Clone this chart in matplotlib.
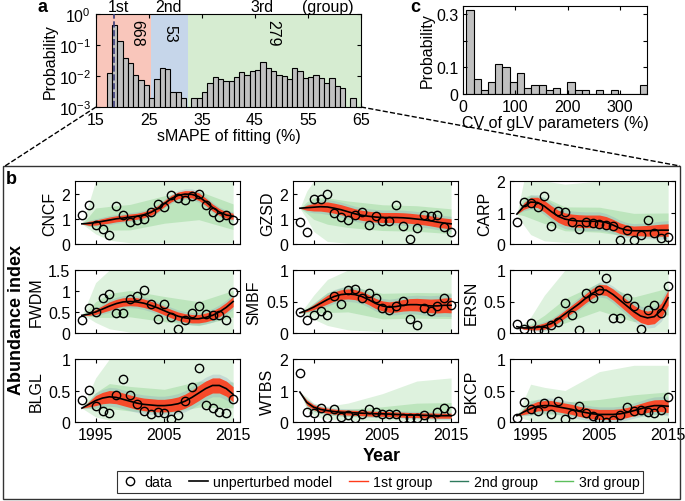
import matplotlib
matplotlib.use("Agg")
import matplotlib.pyplot as plt
import numpy as np
from matplotlib.lines import Line2D
from matplotlib.patches import Rectangle
from matplotlib.transforms import blended_transform_factory

plt.rcParams["font.family"] = ["Liberation Sans", "DejaVu Sans"]
plt.rcParams["mathtext.default"] = "regular"
plt.rcParams["font.size"] = 11.5

W, H = 685, 502

# ---------------- panel a: sMAPE histogram ----------------
smape_bins = list(range(17, 64))
smape_prob = [0.0124, 0.45, 0.138, 0.038, 0.026, 0.011, 0.0072, 0.0052, 0.002,
              0.0081, 0.018, 0.017, 0.003, 0.003, 0.002, 0, 0.002, 0.002, 0.003,
              0.006, 0.0092, 0.0081, 0.0069, 0.0069, 0.0092, 0.0133, 0.011, 0.0144,
              0.016, 0.028, 0.018, 0.014, 0.011, 0.01, 0.0081, 0.018, 0.015, 0.0086,
              0.0091, 0.011, 0.0086, 0.006, 0.0087, 0.0047, 0.004, 0, 0.002]
group_edges = [15, 25.4, 32.4, 65]
group_names = ["1st", "2nd", "3rd"]
group_counts = ["668", "53", "279"]
best_smape = 18.4

# ---------------- panel c: CV histogram ----------------
cv_left = [6.5 + 13.8 * i for i in range(25)]
cv_prob = [0.314, 0.0575, 0.015, 0.046, 0.114, 0.1025, 0.046, 0.08, 0.0225,
           0.034, 0.034, 0.015, 0.0225, 0, 0.046, 0.015, 0.015, 0, 0.015, 0,
           0.015, 0, 0, 0, 0.034]

# ---------------- panel b: abundance time series ----------------
years = list(range(1993, 2016))
band_years = [1993, 1994, 1995, 1997, 2000, 2005, 2010, 2015]

cncf_obs = [1.17, 1.55, 0.77, 0.6, 0.35, 1.5, 1.15, 0.87, 0.97, 1.0, 1.27, 1.57,
            1.47, 1.96, 1.83, 1.75, 1.89, 1.97, 1.55, 1.28, 1.07, 1.17, 0.97]
cncf_model = [0.8, 0.82, 0.85, 0.9, 0.95, 1.0, 1.03, 1.07, 1.1, 1.16, 1.25, 1.4,
              1.6, 1.8, 1.93, 1.98, 1.97, 1.88, 1.68, 1.45, 1.27, 1.15, 1.1]
cncf_g_lo = [0.8, 0.6, 0.4, 0.15, 0.05, 0.05, 0.05, 0.05]
cncf_g_hi = [0.8, 1.6, 2.5, 2.5, 2.5, 2.5, 2.5, 2.5]
cncf_red = [0, 0.08, 0.1, 0.12, 0.12, 0.12, 0.15, 0.12]

gzsd_obs = [0.86, 0.46, 1.8, 1.78, 1.99, 1.24, 1.09, 0.94, 1.14, 1.27, 0.76, 1.12,
            0.9, 0.92, 1.54, 0.73, 0.18, 0.65, 1.14, 1.1, 1.14, 0.66, 0.46]
gzsd_model = [1.42, 1.44, 1.46, 1.48, 1.47, 1.42, 1.36, 1.28, 1.2, 1.14, 1.1, 1.07,
              1.05, 1.05, 1.05, 1.04, 1.02, 0.99, 0.96, 0.92, 0.87, 0.83, 0.8]
gzsd_g_lo = [1.42, 1.0, 0.5, 0.1, 0.03, 0.02, 0.02, 0.02]
gzsd_g_hi = [1.42, 2.1, 2.5, 2.5, 2.5, 2.5, 2.5, 2.5]
gzsd_red = [0, 0.1, 0.15, 0.2, 0.2, 0.2, 0.2, 0.2]

carp_obs = [0.71, 1.33, 1.31, 1.19, 1.51, 0.56, 1.05, 1.03, 0.7, 0.48, 0.71, 0.68,
            0.64, 0.59, 0.56, 0.14, 0.45, 0.14, 0.28, 0.77, 0.36, 0.19, 0.22]
carp_model = [0.95, 1.2, 1.33, 1.32, 1.2, 1.03, 0.88, 0.79, 0.75, 0.73, 0.72, 0.72,
              0.72, 0.68, 0.6, 0.5, 0.44, 0.42, 0.42, 0.42, 0.43, 0.44, 0.44]
carp_g_lo = [0.95, 0.6, 0.3, 0.1, 0.05, 0.03, 0.02, 0.02]
carp_g_hi = [0.95, 2.0, 2.0, 2.0, 1.9, 2.0, 2.0, 2.0]
carp_red = [0, 0.1, 0.15, 0.18, 0.2, 0.2, 0.15, 0.2]

fwdm_obs = [0.32, 0.6, 0.5, 0.83, 0.92, 0.48, 0.47, 0.81, 0.87, 1.03, 0.69, 0.34,
            0.7, 0.38, 0.09, 0.31, 0.48, 0.64, 0.46, 0.44, 0.42, 0.3, 0.98]
fwdm_model = [0.42, 0.45, 0.5, 0.57, 0.64, 0.7, 0.74, 0.75, 0.74, 0.71, 0.66, 0.6,
              0.53, 0.46, 0.4, 0.36, 0.34, 0.34, 0.37, 0.42, 0.5, 0.61, 0.75]
fwdm_g_lo = [0.42, 0.35, 0.25, 0.1, 0.02, 0.01, 0.01, 0.01]
fwdm_g_hi = [0.42, 0.8, 1.2, 1.5, 1.5, 1.5, 1.5, 1.5]
fwdm_red = [0, 0.03, 0.06, 0.1, 0.1, 0.1, 0.1, 0.12]

smbf_obs = [0.34, 0.2, 0.28, 0.35, 0.29, 0.58, 0.46, 0.69, 0.7, 0.55, 0.63, 0.55,
            0.4, 0.37, 0.43, 0.51, 0.23, 0.12, 0.4, 0.35, 0.43, 0.55, 0.44]
smbf_model = [0.32, 0.36, 0.41, 0.47, 0.53, 0.58, 0.61, 0.62, 0.61, 0.58, 0.53, 0.47,
              0.43, 0.41, 0.42, 0.44, 0.45, 0.45, 0.44, 0.43, 0.43, 0.44, 0.44]
smbf_g_lo = [0.32, 0.28, 0.22, 0.12, 0.05, 0.02, 0.02, 0.02]
smbf_g_hi = [0.32, 0.45, 0.6, 0.85, 1.0, 1.0, 1.0, 1.0]
smbf_red = [0, 0.02, 0.04, 0.07, 0.08, 0.08, 0.1, 0.12]

ersn_obs = [0.15, 0.07, 0.16, 0.05, 0.03, 0.13, 0.17, 0.48, 0.29, 0.05, 0.63, 0.55,
            0.68, 0.88, 0.24, 0.24, 0.55, 0.43, 0.07, 0.36, 0.45, 0.32, 0.74]
ersn_model = [0.1, 0.08, 0.08, 0.09, 0.11, 0.15, 0.22, 0.3, 0.38, 0.46, 0.55, 0.63,
              0.69, 0.68, 0.61, 0.52, 0.43, 0.34, 0.27, 0.24, 0.26, 0.36, 0.56]
ersn_g_lo = [0.1, 0.06, 0.04, 0.02, 0.02, 0.02, 0.02, 0.02]
ersn_g_hi = [0.1, 0.15, 0.25, 0.6, 1.0, 1.0, 1.0, 1.0]
ersn_red = [0, 0.02, 0.03, 0.05, 0.06, 0.08, 0.1, 0.12]

blgl_obs = [0.35, 0.51, 0.26, 0.17, 0.14, 0.43, 0.69, 0.43, 0.29, 0.18, 0.12, 0.16,
            0.15, 0.05, 0.11, 0.33, 0.55, 0.86, 0.27, 0.22, 0.16, 0.14, 0.37]
blgl_model = [0.22, 0.28, 0.34, 0.38, 0.4, 0.39, 0.36, 0.33, 0.3, 0.28, 0.27, 0.26,
              0.26, 0.27, 0.29, 0.33, 0.39, 0.46, 0.53, 0.58, 0.58, 0.53, 0.44]
blgl_g_lo = [0.22, 0.15, 0.08, 0.03, 0.02, 0.01, 0.01, 0.01]
blgl_g_hi = [0.22, 0.45, 0.7, 1.0, 1.0, 1.0, 1.0, 1.0]
blgl_red = [0, 0.04, 0.08, 0.1, 0.1, 0.1, 0.12, 0.12]

wtbs_obs = [1.56, 0.33, 0.27, 0.45, 0.12, 0.4, 0.16, 0.21, 0.12, 0.24, 0.41, 0.32,
            0.26, 0.26, 0.25, 0.13, 0.13, 0.13, 0.21, 0.05, 0.32, 0.43, 0.36]
wtbs_model = [0.95, 0.62, 0.47, 0.4, 0.36, 0.33, 0.31, 0.3, 0.29, 0.28, 0.27, 0.26,
              0.26, 0.25, 0.24, 0.23, 0.22, 0.22, 0.21, 0.21, 0.2, 0.2, 0.2]
wtbs_g_lo = [0.95, 0.4, 0.2, 0.08, 0.05, 0.05, 0.05, 0.05]
wtbs_g_hi = [0.95, 0.8, 0.6, 0.5, 0.6, 0.9, 1.3, 1.4]
wtbs_red = [0, 0.08, 0.08, 0.08, 0.08, 0.08, 0.08, 0.08]

bkcp_obs = [0.06, 0.32, 0.2, 0.18, 0.3, 0.13, 0.34, 0.05, 0.13, 0.25, 0.14, 0.09,
            0.04, 0.0, 0.03, 0.11, 0.24, 0.18, 0.19, 0.16, 0.15, 0.19, 0.39]
bkcp_model = [0.1, 0.16, 0.21, 0.25, 0.26, 0.26, 0.24, 0.22, 0.2, 0.17, 0.15, 0.13,
              0.12, 0.12, 0.12, 0.13, 0.15, 0.18, 0.21, 0.24, 0.26, 0.26, 0.25]
bkcp_g_lo = [0.1, 0.05, 0.02, 0.0, 0.0, 0.0, 0.0, 0.0]
bkcp_g_hi = [0.1, 0.35, 0.6, 0.55, 0.5, 0.8, 0.9, 0.9]
bkcp_red = [0, 0.04, 0.07, 0.08, 0.08, 0.08, 0.08, 0.1]

species = ["CNCF", "GZSD", "CARP", "FWDM", "SMBF", "ERSN", "BLGL", "WTBS", "BKCP"]

c1 = "#ff3b1a"     # 1st group
c2 = "#7894b4"     # 2nd group (ensemble shade)
c2_leg = "#2e7a5c"
c3 = "#5cbf5c"     # 3rd group


def box(l, t, r, b):
    return [l / W, 1 - b / H, (r - l) / W, (b - t) / H]


def style(ax):
    ax.tick_params(direction="in", top=True, right=True, length=3, width=0.8)
    for s in ax.spines.values():
        s.set_linewidth(0.8)


fig = plt.figure(figsize=(W / 100, H / 100), dpi=100)

# panel a
axa = fig.add_axes(box(96, 15, 361, 108))
axa.set_yscale("log")
for (x0, x1), col in zip(zip(group_edges[:-1], group_edges[1:]),
                         ["#f9c6bb", "#c6d6ea", "#d6ecd1"]):
    axa.axvspan(x0, x1, color=col, lw=0, zorder=0)
xs = [b for b, p in zip(smape_bins, smape_prob) if p > 0]
ps = [p for p in smape_prob if p > 0]
axa.bar(xs, [p - 1e-4 for p in ps], bottom=1e-4, width=1, align="edge",
        color="#c0c0c0", edgecolor="k", lw=0.8, zorder=2)
axa.axvline(best_smape, color="#3a3a78", ls="--", lw=1.2, zorder=3)
axa.set_xlim(15, 65)
axa.set_ylim(1e-3, 1)
axa.set_xticks([15, 25, 35, 45, 55, 65])
axa.minorticks_off()
axa.set_xlabel("sMAPE of fitting (%)", labelpad=1)
axa.set_ylabel("Probability", labelpad=1)
style(axa)
tr = blended_transform_factory(axa.transData, axa.transAxes)
for x, name in zip([19.15, 28.6, 46.3], group_names):
    axa.text(x, 1.085, name, transform=tr, ha="center", va="center")
axa.text(58.8, 1.085, "(group)", transform=tr, ha="center", va="center")
for x, cnt in zip([22.7, 29.0, 48.4], group_counts):
    axa.text(x, 0.8, cnt, transform=tr, ha="center", va="center", rotation=-90)

# panel c
axc = fig.add_axes(box(463, 7, 647, 95))
axc.bar(cv_left, cv_prob, width=13.8, align="edge", color="#c0c0c0",
        edgecolor="k", lw=0.8)
axc.set_xlim(0, 352)
axc.set_ylim(0, 0.33)
axc.set_xticks([0, 100, 200, 300])
axc.set_yticks([0, 0.1, 0.2, 0.3])
axc.set_yticklabels(["0", "0.1", "", "0.3"])
axc.set_xlabel("CV of gLV parameters (%)", labelpad=1)
axc.set_ylabel("Probability", labelpad=1)
style(axc)

# panel b
obs_all = [cncf_obs, gzsd_obs, carp_obs, fwdm_obs, smbf_obs, ersn_obs,
           blgl_obs, wtbs_obs, bkcp_obs]
model_all = [cncf_model, gzsd_model, carp_model, fwdm_model, smbf_model,
             ersn_model, blgl_model, wtbs_model, bkcp_model]
lo_all = [cncf_g_lo, gzsd_g_lo, carp_g_lo, fwdm_g_lo, smbf_g_lo, ersn_g_lo,
          blgl_g_lo, wtbs_g_lo, bkcp_g_lo]
hi_all = [cncf_g_hi, gzsd_g_hi, carp_g_hi, fwdm_g_hi, smbf_g_hi, ersn_g_hi,
          blgl_g_hi, wtbs_g_hi, bkcp_g_hi]
red_all = [cncf_red, gzsd_red, carp_red, fwdm_red, smbf_red, ersn_red,
           blgl_red, wtbs_red, bkcp_red]
ylims = [2.5, 2.5, 2, 1.5, 1, 1, 1, 2, 1]
yticks = [[0, 1, 2], [0, 1, 2], [0, 1, 2], [0, 0.5, 1, 1.5], [0, 0.5, 1],
          [0, 0.5, 1], [0, 0.5, 1], [0, 1, 2], [0, 0.5, 1]]

col_lefts = [75, 293, 510]
row_tops = [182, 271, 360]
yrs = np.array(years)
for i, name in enumerate(species):
    r, c = divmod(i, 3)
    l, t = col_lefts[c], row_tops[r]
    ax = fig.add_axes(box(l, t, l + 165, t + 63))
    model = np.array(model_all[i])
    lo = np.array(lo_all[i])
    hi = np.array(hi_all[i])
    mk = model[np.searchsorted(yrs, band_years)]
    ax.fill_between(band_years, lo, hi, color=c3, alpha=0.2, lw=0)
    ax.fill_between(band_years, mk + 0.5 * (lo - mk), mk + 0.35 * (hi - mk),
                    color=c3, alpha=0.25, lw=0)
    w = np.interp(yrs, band_years, red_all[i])
    ax.fill_between(yrs, np.maximum(model - 1.5 * w, 0), model + 1.5 * w,
                    color=c2, alpha=0.25, lw=0)
    ax.fill_between(yrs, np.maximum(model - w, 0), model + w,
                    color=c1, alpha=0.9, lw=0)
    ax.plot(yrs, model, color="k", lw=1.2)
    ax.plot(yrs, obs_all[i], "o", mfc="none", mec="k", ms=6, mew=1)
    ax.set_xlim(1992, 2016)
    ax.set_ylim(0, ylims[i])
    ax.set_xticks([1995, 2005, 2015])
    ax.set_yticks(yticks[i])
    ax.set_yticklabels([f"{v:g}" for v in yticks[i]])
    if r < 2:
        ax.set_xticklabels([])
    ax.set_ylabel(name, labelpad=3)
    style(ax)

fig.text(17 / W, 1 - 320 / H, "Abundance index", rotation=90, ha="center",
         va="center", fontsize=13, fontweight="bold")
fig.text(382 / W, 1 - 457 / H, "Year", ha="center", va="center",
         fontsize=13, fontweight="bold")

handles = [
    Line2D([], [], marker="o", ls="none", mfc="none", mec="k", ms=6, label="data"),
    Line2D([], [], color="k", lw=1.2, label="unperturbed model"),
    Line2D([], [], color=c1, lw=1, label="1st group"),
    Line2D([], [], color=c2_leg, lw=1, label="2nd group"),
    Line2D([], [], color=c3, lw=1, label="3rd group"),
]
leg = fig.legend(handles=handles, ncol=5, loc="center",
                 bbox_to_anchor=(380 / W, 1 - 483 / H), frameon=True,
                 fancybox=False, edgecolor="k", handlelength=1.3,
                 columnspacing=1.2, handletextpad=0.4, borderpad=0.25,
                 fontsize=10.2)
leg.get_frame().set_linewidth(0.8)

# panel b frame and zoom lines
fig.patches.append(Rectangle((3 / W, 2 / H), 677 / W, 333 / H, fill=False,
                             lw=1, ec="#333333", transform=fig.transFigure))
fig.lines.append(Line2D([96 / W, 5 / W], [1 - 108 / H, 1 - 167 / H], ls="--",
                        lw=1, color="k", transform=fig.transFigure))
fig.lines.append(Line2D([361 / W, 680 / W], [1 - 108 / H, 1 - 167 / H], ls="--",
                        lw=1, color="k", transform=fig.transFigure))

fig.text(43 / W, 1 - 8 / H, "a", fontsize=13, fontweight="bold", ha="center", va="center")
fig.text(415 / W, 1 - 8 / H, "c", fontsize=13, fontweight="bold", ha="center", va="center")
fig.text(11 / W, 1 - 180 / H, "b", fontsize=13, fontweight="bold", ha="center", va="center")

fig.savefig("out.png", dpi=100)
